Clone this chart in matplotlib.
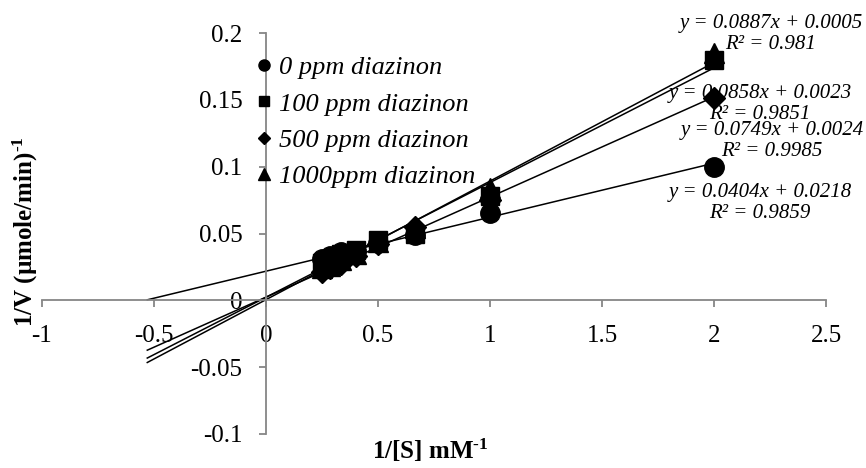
import numpy as np
import matplotlib
matplotlib.use('Agg')
import matplotlib.pyplot as plt
from matplotlib.lines import Line2D

plt.rcParams['font.family'] = ['Liberation Serif', 'DejaVu Serif']
plt.rcParams['mathtext.fontset'] = 'custom'
plt.rcParams['mathtext.rm'] = 'Liberation Serif:bold'
plt.rcParams['mathtext.bf'] = 'Liberation Serif:bold'
plt.rcParams['mathtext.it'] = 'Liberation Serif:italic'

# --- data (Lineweaver-Burk) ---
inv_s = [0.25, 0.2857, 0.3333, 0.4, 0.5, 0.6667, 1.0, 2.0]
inv_v_0 = [0.031, 0.033, 0.036, 0.037, 0.043, 0.049, 0.065, 0.100]
inv_v_100 = [0.028, 0.030, 0.035, 0.038, 0.045, 0.050, 0.078, 0.180]
inv_v_500 = [0.021, 0.024, 0.027, 0.033, 0.042, 0.055, 0.075, 0.151]
inv_v_1000 = [0.024, 0.026, 0.030, 0.035, 0.044, 0.054, 0.084, 0.185]

labels = ['0 ppm diazinon', '100 ppm diazinon', '500 ppm diazinon', '1000ppm diazinon']
markers = ['o', 's', 'D', '^']

# trendline coefficients as printed on the chart
slopes = [0.0404, 0.0858, 0.0749, 0.0887]
intercepts = [0.0218, 0.0023, 0.0024, 0.0005]
r2 = ['0.9859', '0.9851', '0.9985', '0.981']
trend_x = [-0.53, 2.0]

series = [inv_v_0, inv_v_100, inv_v_500, inv_v_1000]

fig = plt.figure(figsize=(8.66, 4.68), dpi=100)
W, H = 866, 468
ax = fig.add_axes([42 / W, 1 - 434 / H, (826 - 42) / W, (434 - 33) / H])

marker_sizes = [14, 13, 11, 14]
for y, m, ms in zip(series, markers, marker_sizes):
    ax.plot(inv_s, y, linestyle='none', marker=m, color='black', markersize=ms, zorder=3)

tx = np.array(trend_x)
for k, b in zip(slopes, intercepts):
    ax.plot(tx, k * tx + b, color='black', linewidth=1.1, zorder=2)

# equation labels (centre of each two-line block, data coords)
eq_pos = [(2.205, 0.0725), (2.205, 0.147), (2.259, 0.119), (2.254, 0.199)]
for (ex, ey), k, b, r in zip(eq_pos, slopes, intercepts, r2):
    ax.text(ex, ey, f'y = {k:.4f}x + {b:.4f}\nR² = {r}', ha='center', va='center',
            fontsize=15, style='italic', linespacing=1.15, zorder=4)

ax.set_xlim(-1, 2.5)
ax.set_ylim(-0.1, 0.2)
ax.set_xticks([-1, -0.5, 0, 0.5, 1, 1.5, 2, 2.5])
ax.set_xticklabels(['-1', '-0.5', '0', '0.5', '1', '1.5', '2', '2.5'])
ax.set_yticks([-0.1, -0.05, 0, 0.05, 0.1, 0.15, 0.2])
ax.set_yticklabels(['-0.1', '-0.05', '0', '0.05', '0.1', '0.15', '0.2'])

ax.spines['left'].set_position(('data', 0))
ax.spines['bottom'].set_position(('data', 0))
ax.spines['top'].set_visible(False)
ax.spines['right'].set_visible(False)
for s in ['left', 'bottom']:
    ax.spines[s].set_color('#868686')
    ax.spines[s].set_linewidth(1.3)
ax.tick_params(axis='both', colors='#868686', labelcolor='black', labelsize=18,
               length=5, width=1.3, direction='out')
ax.tick_params(axis='y', pad=12)
ax.tick_params(axis='x', pad=13)

handles = [Line2D([], [], linestyle='none', marker=m, color='black', markersize=ms)
           for m, ms in zip(markers, [8, 7, 6, 9])]
ax.legend(handles, labels, loc='upper left', bbox_to_anchor=((257 - 42) / 784, (434 - 56) / 401),
          frameon=False, prop={'style': 'italic', 'size': 19}, handlelength=0.5,
          handletextpad=0.35, labelspacing=0.48, borderpad=0, borderaxespad=0)

fig.text(25 / W, 1 - 232 / H, r'1/V (µmole/min)$^{\text{-1}}$', rotation=90,
         ha='center', va='center', fontsize=18, fontweight='bold')
fig.text(430 / W, 1 - 450 / H, r'1/[S] mM$^{\text{-1}}$', ha='center', va='center',
         fontsize=18, fontweight='bold')

fig.savefig('out.png', dpi=100)
